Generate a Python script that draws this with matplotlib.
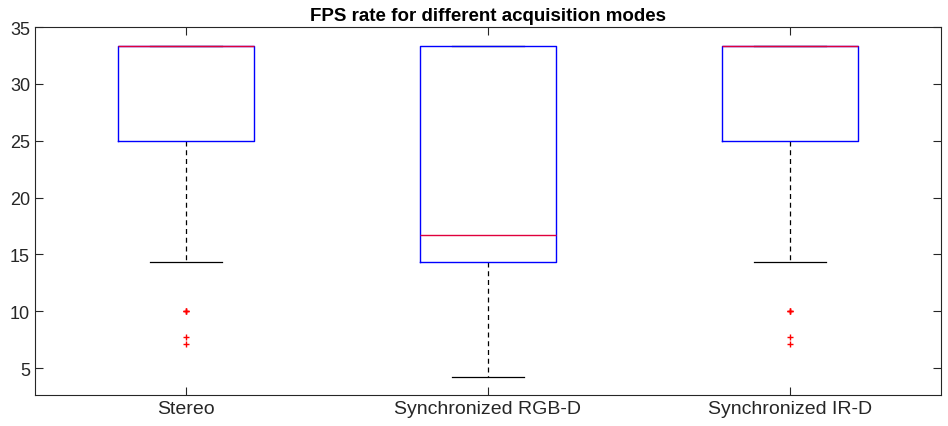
import matplotlib.pyplot as plt

# box statistics (fps)
modes = ["Stereo", "Synchronized RGB-D", "Synchronized IR-D"]
q1 = [25.0, 14.29, 25.0]
med = [33.33, 16.67, 33.33]
q3 = [33.33, 33.33, 33.33]
whis_lo = [14.29, 4.17, 14.29]
whis_hi = [33.33, 33.33, 33.33]
outliers = [[10.0, 10.0, 10.0, 7.69, 7.14], [], [10.0, 10.0, 10.0, 7.69, 7.14]]

stats = []
for i, m in enumerate(modes):
    stats.append({"label": m, "q1": q1[i], "med": med[i], "q3": q3[i],
                  "whislo": whis_lo[i], "whishi": whis_hi[i], "fliers": outliers[i]})

plt.rcParams["font.family"] = ["Liberation Sans", "DejaVu Sans"]
fig = plt.figure(figsize=(9.48, 4.27), dpi=100)
ax = fig.add_axes([0.0369, 0.0726, 0.9557, 0.8618])

ax.bxp(stats, widths=0.45,
       boxprops=dict(color="blue", linewidth=1.0, zorder=3),
       medianprops=dict(color="#e0003c", linewidth=1.0, zorder=4),
       whiskerprops=dict(color="black", linestyle=(0, (4, 3)), linewidth=0.9, zorder=2),
       capprops=dict(color="black", linewidth=0.9, zorder=2),
       capwidths=0.24,
       flierprops=dict(marker="+", markeredgecolor="red", markersize=4, linestyle="none"))

ax.set_xlim(0.5, 3.5)
ax.set_ylim(2.63, 35)
ax.set_yticks([5, 10, 15, 20, 25, 30, 35])
ax.tick_params(direction="in", top=True, right=True, labelsize=13, length=6, colors="#262626")
ax.tick_params(axis="x", labelsize=14)
for s in ax.spines.values():
    s.set_color("#262626")
    s.set_linewidth(0.8)
ax.set_title("FPS rate for different acquisition modes", fontsize=13.5, fontweight="bold", pad=5)

fig.savefig("out.png", dpi=100)
